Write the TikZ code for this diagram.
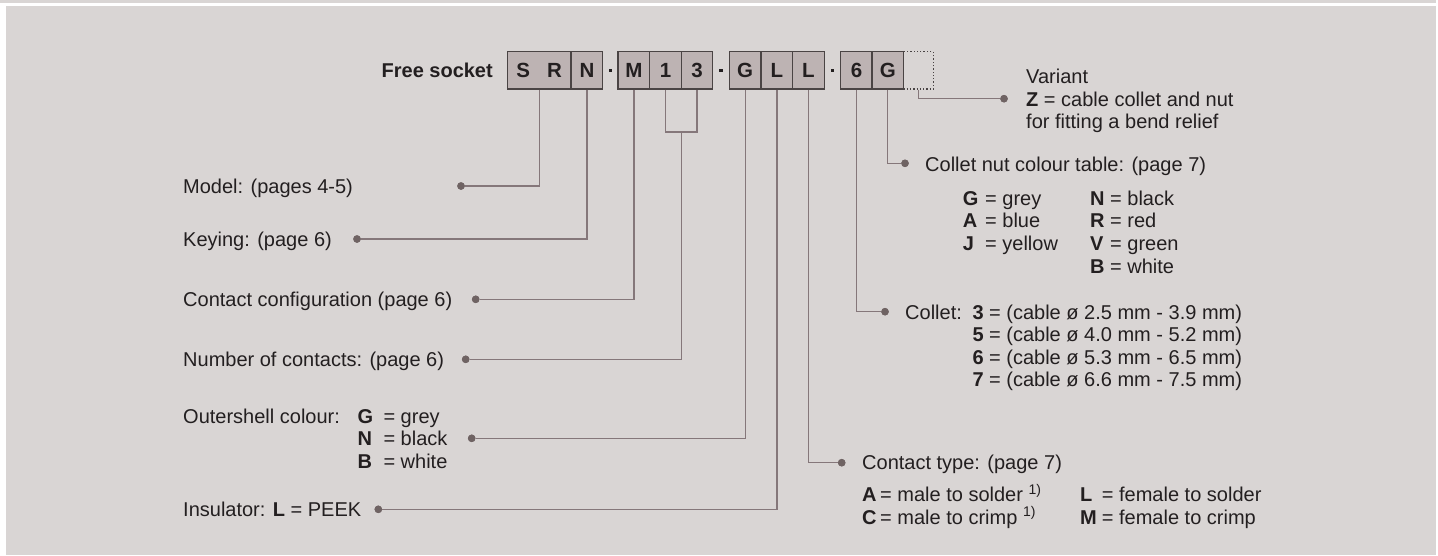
\documentclass[tikz,border=0pt]{standalone}
\usepackage{fontspec}
\setmainfont{Liberation Sans}
\definecolor{bg}{HTML}{D9D5D4}
\definecolor{cellfill}{HTML}{BDB3B3}
\definecolor{edge}{HTML}{4A4444}
\definecolor{leadc}{HTML}{85777A}
\definecolor{dotc}{HTML}{6F6363}
\definecolor{ink}{HTML}{231F20}
\newcommand{\kv}[3]{\makebox[#1pt][l]{\textbf{#2}}#3}
\begin{document}
\begin{tikzpicture}[x=1pt,y=-1pt,
  txt/.style={anchor=base west, inner sep=0pt, text=ink, font=\fontsize{20}{23}\selectfont},
  cell/.style={draw=edge, line width=1.3pt, fill=cellfill, minimum width=31.65pt, minimum height=37.3pt, inner sep=0pt, font=\fontsize{20.5}{23}\selectfont\bfseries, text=ink},
  varcell/.style={draw=edge, dotted, line width=1.3pt, minimum width=30pt, minimum height=37.3pt, inner sep=0pt},
  sepdot/.style={inner sep=0pt, fill=ink, minimum size=3.5pt},
  lead/.style={draw=leadc, line width=1.2pt},
  pin/.style={circle, fill=dotc, inner sep=0pt, minimum size=7.5pt}]
% background
\useasboundingbox (0,0) rectangle (1438,555);
\fill[white] (0,0) rectangle (1438,555);
\fill[bg] (0,0) rectangle (1436,3);
\fill[bg] (6,6) rectangle (1436,555);

% code cells
\node[txt, anchor=base east, font=\fontsize{20}{23}\selectfont\bfseries] (free) at (493,77.5) {Free socket};
\node[cell, minimum width=63.7pt] (sr) at (539.2,70.4) {S\hspace{17pt}R};
\node[cell] (n) at (586.9,70.4) {N};
\node[sepdot] (s1) at (610.3,70.4) {};
\node[cell] (m) at (633.9,70.4) {M};
\node[cell] (one) at (665.5,70.4) {1};
\node[cell] (three) at (697.0,70.4) {3};
\node[sepdot] (s2) at (720.8,70.4) {};
\node[cell] (g) at (745.2,70.4) {G};
\node[cell] (la) at (776.9,70.4) {L};
\node[cell] (lb) at (808.5,70.4) {L};
\node[sepdot] (s3) at (832.6,70.4) {};
\node[cell] (six) at (856.5,70.4) {6};
\node[cell] (gb) at (887.8,70.4) {G};
\node[varcell] (var) at (918.3,70.4) {};

% left labels
\node[pin] (dmodel) at (461,186) {};
\node[txt] (tmodel) at (183,193.3) {Model: (pages 4-5)};
\node[pin] (dkey) at (357,239) {};
\node[txt] (tkey) at (183,246.3) {Keying: (page 6)};
\node[pin] (dconf) at (475.7,299.3) {};
\node[txt] (tconf) at (183,306.6) {Contact configuration (page 6)};
\node[pin] (dnum) at (465.7,359.3) {};
\node[txt] (tnum) at (183,366.6) {Number of contacts: (page 6)};
\node[pin] (dshell) at (471.7,438.3) {};
\node[txt] (tshell) at (183,423.3) {Outershell colour:};
\node[txt] (sh1) at (357.3,423.3) {\kv{26}{G}{= grey}};
\node[txt] (sh2) at (357.3,445.6) {\kv{26}{N}{= black}};
\node[txt] (sh3) at (357.3,468.0) {\kv{26}{B}{= white}};
\node[pin] (dins) at (378.3,509.3) {};
\node[txt] (tins) at (183,516.6) {Insulator: \textbf{L} = PEEK};

% right labels
\node[pin] (dvar) at (1004,98.7) {};
\node[txt] (v1) at (1026,83.3) {Variant};
\node[txt] (v2) at (1026,106.0) {\textbf{Z} = cable collet and nut};
\node[txt] (v3) at (1026,128.7) {for fitting a bend relief};

\node[pin] (dnut) at (905,163.3) {};
\node[txt] (tnut) at (925,171.7) {Collet nut colour table: (page 7)};
\node[txt] (c1) at (962.7,205.0) {\kv{22.3}{G}{= grey}};
\node[txt] (c2) at (962.7,227.7) {\kv{22.3}{A}{= blue}};
\node[txt] (c3) at (962.7,250.4) {\kv{22.3}{J}{= yellow}};
\node[txt] (c4) at (1090,205.0) {\kv{20}{N}{= black}};
\node[txt] (c5) at (1090,227.7) {\kv{20}{R}{= red}};
\node[txt] (c6) at (1090,250.4) {\kv{20}{V}{= green}};
\node[txt] (c7) at (1090,273.1) {\kv{20}{B}{= white}};

\node[pin] (dcol) at (885,311.7) {};
\node[txt] (tcol) at (905,319.3) {Collet:};
\node[txt] (k1) at (972.3,319.3) {\textbf{3} = (cable ø 2.5 mm - 3.9 mm)};
\node[txt] (k2) at (972.3,341.8) {\textbf{5} = (cable ø 4.0 mm - 5.2 mm)};
\node[txt] (k3) at (972.3,364.3) {\textbf{6} = (cable ø 5.3 mm - 6.5 mm)};
\node[txt] (k4) at (972.3,386.8) {\textbf{7} = (cable ø 6.6 mm - 7.5 mm)};

\node[pin] (dtype) at (841.7,462.7) {};
\node[txt] (ttype) at (862,469.3) {Contact type: (page 7)};
\node[txt] (a1) at (862,501.7) {\kv{18}{A}{= male to solder \textsuperscript{1)}}};
\node[txt] (a2) at (862,524.3) {\kv{18}{C}{= male to crimp \textsuperscript{1)}}};
\node[txt] (a3) at (1080,501.7) {\kv{21.7}{L}{= female to solder}};
\node[txt] (a4) at (1080,524.3) {\kv{21.7}{M}{= female to crimp}};

% connectors
\coordinate (bj) at (681.2,132);
\begin{scope}[on background layer/.try]
\draw[lead] (sr.south) |- (dmodel);
\draw[lead] (n.south) |- (dkey);
\draw[lead] (m.south) |- (dconf);
\draw[lead] (one.south) |- (bj) -| (three.south);
\draw[lead] (bj) |- (dnum);
\draw[lead] (g.south) |- (dshell);
\draw[lead] (la.south) |- (dins);
\draw[lead] (lb.south) |- (dtype);
\draw[lead] (six.south) |- (dcol);
\draw[lead] (gb.south) |- (dnut);
\draw[lead] (var.south) |- (dvar);
\end{scope}
\node[pin] at (dmodel) {};
\node[pin] at (dkey) {};
\node[pin] at (dconf) {};
\node[pin] at (dnum) {};
\node[pin] at (dshell) {};
\node[pin] at (dins) {};
\node[pin] at (dvar) {};
\node[pin] at (dnut) {};
\node[pin] at (dcol) {};
\node[pin] at (dtype) {};
\end{tikzpicture}
\end{document}
